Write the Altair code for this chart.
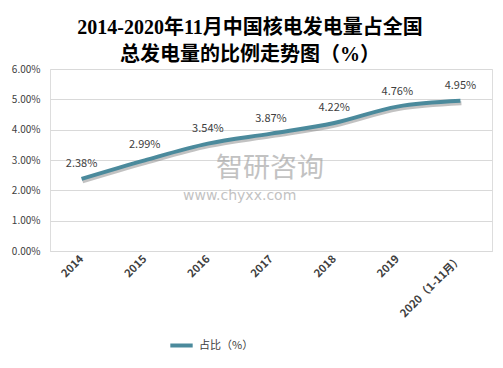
import altair as alt
import pandas as pd

years = ["2014", "2015", "2016", "2017", "2018", "2019", "2020（1-11月）"]
values = [2.38, 2.99, 3.54, 3.87, 4.22, 4.76, 4.95]
series_name = "占比（%）"
y_ticks = [0, 1, 2, 3, 4, 5, 6]

df = pd.DataFrame({"year": years, "value": values, "series": series_name})
df["label"] = [f"{v:.2f}%" for v in values]

LINE = "#4B8A9C"
SANS = "Noto Sans CJK SC, Open Sans, sans-serif"

x_enc = alt.X("year:N", sort=years, title=None,
              scale=alt.Scale(paddingInner=0, paddingOuter=0.5),
              axis=alt.Axis(labelAngle=-45, labelAlign="right", labelBaseline="middle",
                            labelFontWeight="bold", labelFontSize=11, labelColor="#404040",
                            labelFont=SANS, ticks=False, domain=True, domainColor="#d9d9d9",
                            labelPadding=6, labelLimit=200))
y_enc = alt.Y("value:Q", title=None,
              scale=alt.Scale(domain=[0, 6]),
              axis=alt.Axis(values=y_ticks, labelExpr="format(datum.value, '.2f') + '%'",
                            ticks=False, domain=False, gridColor="#d9d9d9",
                            labelFontSize=10, labelColor="#404040", labelFont=SANS,
                            labelPadding=10))

base = alt.Chart(df)

shadow = base.mark_line(interpolate="monotone", strokeWidth=4, color="#777777",
                        opacity=0.45, xOffset=1, yOffset=2.5).encode(x=x_enc, y=y_enc)

line = base.mark_line(interpolate="monotone", strokeWidth=4).encode(
    x=x_enc, y=y_enc,
    color=alt.Color("series:N", scale=alt.Scale(range=[LINE]),
                    legend=alt.Legend(title=None, orient="none", legendX=118, legendY=263,
                                      symbolType="stroke", symbolStrokeWidth=4,
                                      symbolSize=500, labelFontSize=11,
                                      labelColor="#404040", labelFont=SANS)))

labels = base.mark_text(dy=-15, fontSize=11, color="#404040", font=SANS).encode(
    x=x_enc, y=y_enc, text="label:N")

wm1 = alt.Chart(pd.DataFrame({"t": ["智研咨询"]})).mark_text(
    fontSize=27, color="#9a9a9a", opacity=0.6, font=SANS, align="left").encode(
    x=alt.value(166), y=alt.value(100), text="t:N")
wm2 = alt.Chart(pd.DataFrame({"t": ["www.chyxx.com"]})).mark_text(
    fontSize=14, color="#9a9a9a", opacity=0.6, font="DejaVu Sans", align="left").encode(
    x=alt.value(133), y=alt.value(127), text="t:N")

chart = alt.layer(shadow, line, labels, wm1, wm2).properties(
    width=442, height=182,
    autosize=alt.AutoSizeParams(type="none"),
    padding={"left": 42, "top": 61, "right": 3, "bottom": 109},
    title=alt.TitleParams(
        text=["2014-2020年11月中国核电发电量占全国", "总发电量的比例走势图（%）"],
        font="Liberation Serif, Noto Sans CJK SC, serif", fontSize=20, fontWeight="bold",
        color="#000000", anchor="middle", dx=-21, dy=9, lineHeight=27, offset=8),
).configure_view(stroke=None).configure(background="white")

chart.save("out.html", embed_options={"renderer": "svg", "actions": False})
